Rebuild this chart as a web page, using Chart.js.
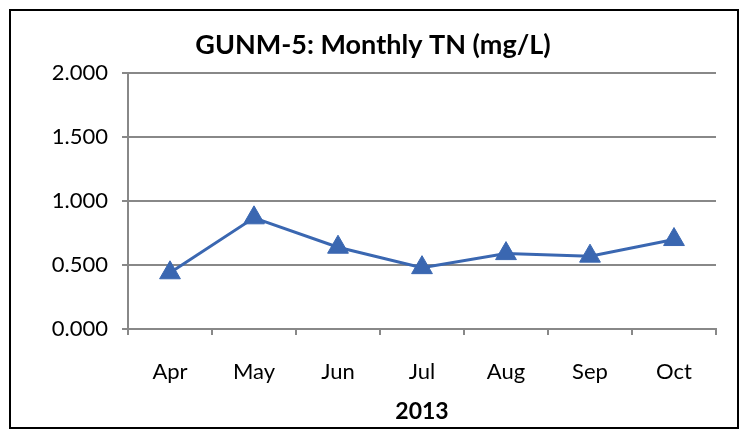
<!DOCTYPE html>
<html>
<head>
<meta charset="utf-8">
<script src="https://cdn.jsdelivr.net/npm/chart.js@4"></script>
<style>
    body { margin: 0; background: #fff; }
    #wrap { position: relative; width: 746px; height: 433px; }
    #frame {
        position: absolute; left: 9px; top: 9px; width: 726px; height: 416px;
        border: 2px solid #000; pointer-events: none;
    }
</style>
</head>
<body>
<div id="wrap">
    <canvas id="grafico" width="746" height="433"></canvas>
    <div id="frame"></div>
</div>
<script>
// Datos del gráfico
const meses = ['Apr', 'May', 'Jun', 'Jul', 'Aug', 'Sep', 'Oct'];
const valoresTN = [0.44, 0.87, 0.64, 0.48, 0.59, 0.57, 0.70];
const ticksY = [0, 0.5, 1.0, 1.5, 2.0];

const fuente = "Lato, 'Open Sans', sans-serif";
const azul = '#3A67B1';

new Chart(document.getElementById('grafico'), {
    type: 'line',
    data: {
        labels: meses,
        datasets: [{
            label: 'TN',
            data: valoresTN,
            borderColor: azul,
            backgroundColor: azul,
            borderWidth: 3,
            pointStyle: 'triangle',
            pointRadius: 12,
            pointBorderWidth: 1,
            pointBorderColor: azul,
            tension: 0
        }]
    },
    options: {
        responsive: false,
        animation: false,
        layout: { padding: { left: 0, right: 0, top: 0, bottom: 8 } },
        plugins: {
            legend: { display: false },
            tooltip: { enabled: false },
            title: {
                display: true,
                text: 'GUNM-5: Monthly TN (mg/L)',
                color: '#000',
                font: { family: fuente, size: 27, weight: 'bold' },
                padding: { top: 29, bottom: 12 }
            }
        },
        scales: {
            x: {
                offset: true,
                grid: {
                    offset: true,
                    drawOnChartArea: false,
                    color: '#888',
                    tickLength: 6,
                    lineWidth: 2
                },
                border: { color: '#888', width: 2 },
                ticks: {
                    color: '#000',
                    padding: 24,
                    font: { family: fuente, size: 22 }
                },
                title: {
                    display: true,
                    text: '2013',
                    color: '#000',
                    font: { family: fuente, size: 23, weight: 'bold' },
                    padding: { top: 8, bottom: 0 }
                },
                afterFit: s => { s.height = 96; }
            },
            y: {
                min: 0,
                max: 2,
                afterBuildTicks: s => { s.ticks = ticksY.map(v => ({ value: v })); },
                grid: { color: '#888', lineWidth: 2, tickLength: 6 },
                border: { color: '#888', width: 2 },
                ticks: {
                    color: '#000',
                    padding: 14,
                    font: { family: fuente, size: 22 },
                    callback: v => Number(v).toFixed(3)
                },
                afterFit: s => { s.width = 128; }
            },
            // eje vacío a la derecha para dejar margen y centrar el título
            derecha: {
                position: 'right',
                display: true,
                grid: { display: false },
                border: { display: false },
                ticks: { display: false },
                afterFit: s => { s.width = 30; }
            }
        }
    }
});
</script>
</body>
</html>
